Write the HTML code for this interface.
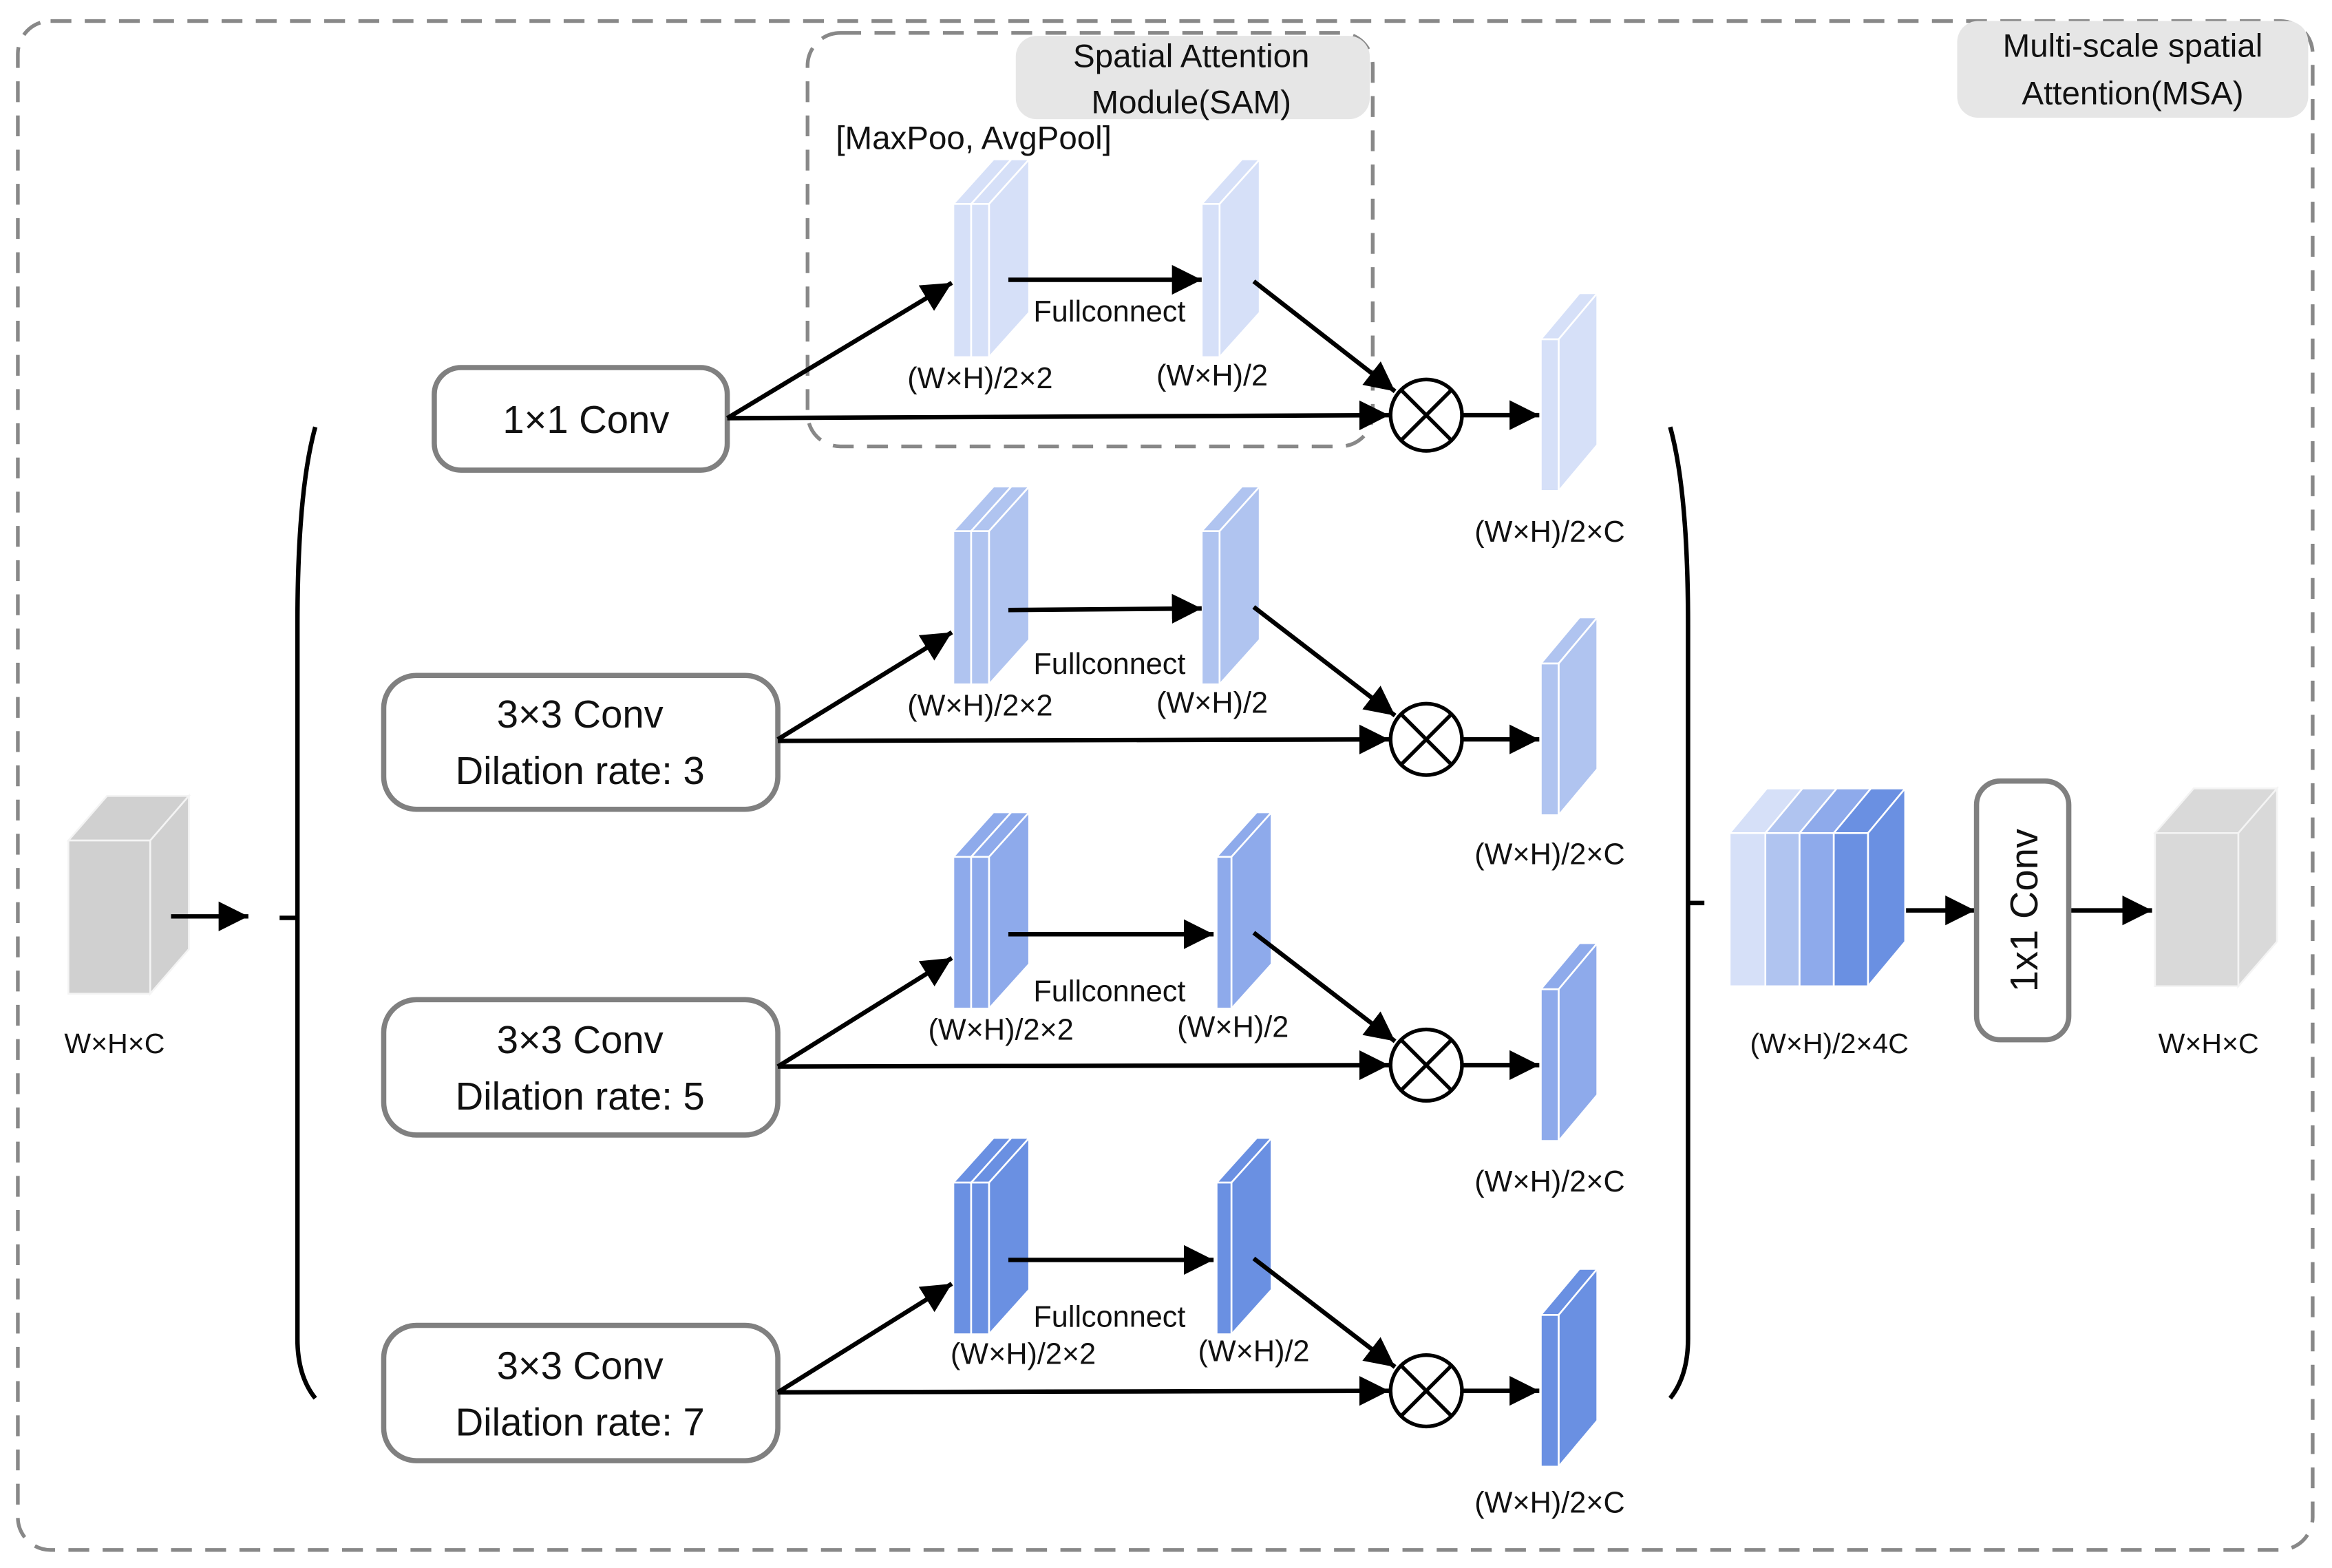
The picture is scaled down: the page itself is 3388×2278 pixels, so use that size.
<!DOCTYPE html>
<html><head><meta charset="utf-8"><style>
html,body{margin:0;padding:0;background:#fff}
svg{display:block}
text{font-family:"Liberation Sans",sans-serif;fill:#111}
</style></head><body>
<svg width="3388" height="2278" viewBox="0 0 1568 1054" xmlns="http://www.w3.org/2000/svg">
<defs>
<marker id="ah" markerWidth="10" markerHeight="10" refX="9" refY="5" orient="auto" markerUnits="userSpaceOnUse" viewBox="0 0 10 10">
</marker>
<marker id="a" viewBox="0 0 10 10" refX="10" refY="5" markerWidth="20" markerHeight="20" markerUnits="userSpaceOnUse" orient="auto"><path d="M0,0 L10,5 L0,10 z" fill="#000"/></marker>
</defs>
<!-- outer dashed -->
<rect x="12" y="14" width="1543" height="1028" rx="22" fill="none" stroke="#888" stroke-width="2.5" stroke-dasharray="14,9"/>
<rect x="1316" y="14" width="236" height="65" rx="14" fill="#e6e6e6"/>
<text x="1434" y="38" font-size="22" text-anchor="middle">Multi-scale spatial</text>
<text x="1434" y="70" font-size="22" text-anchor="middle">Attention(MSA)</text>
<!-- SAM dashed -->
<rect x="543" y="22" width="380" height="278" rx="22" fill="none" stroke="#888" stroke-width="2.5" stroke-dasharray="14,9"/>
<rect x="683" y="24" width="238" height="56" rx="14" fill="#e6e6e6"/>
<text x="801" y="45" font-size="22" text-anchor="middle">Spatial Attention</text>
<text x="801" y="76" font-size="22" text-anchor="middle">Module(SAM)</text>
<text x="562" y="100" font-size="22">[MaxPoo, AvgPool]</text>

<!-- input cube -->
<g fill="#d0d0d0" stroke="#f4f4f4" stroke-width="1.2">
<polygon points="46,565 72,535 127,535 101,565"/>
<polygon points="101,565 127,535 127,638 101,668"/>
<rect x="46" y="565" width="55" height="103"/>
</g>
<text x="77" y="708" font-size="19" text-anchor="middle">W×H×C</text>
<line x1="115" y1="616" x2="167" y2="616" stroke="#000" stroke-width="3" marker-end="url(#a)"/>
<line x1="188" y1="617" x2="200" y2="617" stroke="#000" stroke-width="3"/>
<!-- brackets -->
<path d="M212,287 Q200,330 200,420 L200,900 Q200,925 212,940" fill="none" stroke="#000" stroke-width="3"/>
<path d="M1123,287 Q1135,330 1135,420 L1135,900 Q1135,925 1123,940" fill="none" stroke="#000" stroke-width="3"/>
<line x1="1135" y1="607" x2="1146" y2="607" stroke="#000" stroke-width="3"/>

<!-- conv boxes -->
<g fill="#fff" stroke="#808080" stroke-width="3.5">
<rect x="292" y="247" width="197" height="69" rx="18"/>
<rect x="258" y="454" width="265" height="90" rx="22"/>
<rect x="258" y="672" width="265" height="91" rx="22"/>
<rect x="258" y="891" width="265" height="91" rx="22"/>
</g>
<text x="394" y="291" font-size="26" text-anchor="middle">1×1 Conv</text>
<text x="390" y="489" font-size="26" text-anchor="middle">3×3 Conv</text>
<text x="390" y="527" font-size="26" text-anchor="middle">Dilation rate: 3</text>
<text x="390" y="708" font-size="26" text-anchor="middle">3×3 Conv</text>
<text x="390" y="746" font-size="26" text-anchor="middle">Dilation rate: 5</text>
<text x="390" y="927" font-size="26" text-anchor="middle">3×3 Conv</text>
<text x="390" y="965" font-size="26" text-anchor="middle">Dilation rate: 7</text>

<!-- ROW 1 -->
<g stroke="#fff" stroke-width="1.2" fill="#d6e0f8">
<polygon points="641,137 668,107 680,107 653,137"/><polygon points="653,137 680,107 680,210 653,240"/><rect x="641" y="137" width="12" height="103"/>
<polygon points="653,137 680,107 692,107 665,137"/><polygon points="665,137 692,107 692,210 665,240"/><rect x="653" y="137" width="12" height="103"/>
<polygon points="808,137 835,107 847,107 820,137"/><polygon points="820,137 847,107 847,210 820,240"/><rect x="808" y="137" width="12" height="103"/>
<polygon points="1036,228 1062,197 1074,197 1048,228"/><polygon points="1048,228 1074,197 1074,299 1048,330"/><rect x="1036" y="228" width="12" height="102"/>
</g>
<!-- ROW 2 -->
<g stroke="#fff" stroke-width="1.2" fill="#b0c4f0">
<polygon points="641,357 668,327 680,327 653,357"/><polygon points="653,357 680,327 680,430 653,460"/><rect x="641" y="357" width="12" height="103"/>
<polygon points="653,357 680,327 692,327 665,357"/><polygon points="665,357 692,327 692,430 665,460"/><rect x="653" y="357" width="12" height="103"/>
<polygon points="808,357 835,327 847,327 820,357"/><polygon points="820,357 847,327 847,430 820,460"/><rect x="808" y="357" width="12" height="103"/>
<polygon points="1036,446 1062,415 1074,415 1048,446"/><polygon points="1048,446 1074,415 1074,517 1048,548"/><rect x="1036" y="446" width="12" height="102"/>
</g>
<!-- ROW 3 -->
<g stroke="#fff" stroke-width="1.2" fill="#8eaaeb">
<polygon points="641,576 668,546 680,546 653,576"/><polygon points="653,576 680,546 680,648 653,678"/><rect x="641" y="576" width="12" height="102"/>
<polygon points="653,576 680,546 692,546 665,576"/><polygon points="665,576 692,546 692,648 665,678"/><rect x="653" y="576" width="12" height="102"/>
<polygon points="818,576 845,546 855,546 828,576"/><polygon points="828,576 855,546 855,648 828,678"/><rect x="818" y="576" width="10" height="102"/>
<polygon points="1036,665 1062,634 1074,634 1048,665"/><polygon points="1048,665 1074,634 1074,736 1048,767"/><rect x="1036" y="665" width="12" height="102"/>
</g>
<!-- ROW 4 -->
<g stroke="#fff" stroke-width="1.2" fill="#6a90e2">
<polygon points="641,795 668,765 680,765 653,795"/><polygon points="653,795 680,765 680,867 653,897"/><rect x="641" y="795" width="12" height="102"/>
<polygon points="653,795 680,765 692,765 665,795"/><polygon points="665,795 692,765 692,867 665,897"/><rect x="653" y="795" width="12" height="102"/>
<polygon points="818,795 845,765 855,765 828,795"/><polygon points="828,795 855,765 855,867 828,897"/><rect x="818" y="795" width="10" height="102"/>
<polygon points="1036,884 1062,853 1074,853 1048,884"/><polygon points="1048,884 1074,853 1074,955 1048,986"/><rect x="1036" y="884" width="12" height="102"/>
</g>

<!-- arrows -->
<g stroke="#000" stroke-width="3" fill="none" marker-end="url(#a)">
<line x1="489" y1="281" x2="640" y2="190"/>
<line x1="489" y1="281" x2="934" y2="279"/>
<line x1="678" y1="188" x2="808" y2="188"/>
<line x1="843" y1="189" x2="938" y2="263"/>
<line x1="984" y1="279" x2="1035" y2="279"/>

<line x1="523" y1="497" x2="640" y2="425"/>
<line x1="523" y1="498" x2="934" y2="497"/>
<line x1="678" y1="410" x2="808" y2="409"/>
<line x1="843" y1="408" x2="938" y2="481"/>
<line x1="984" y1="497" x2="1035" y2="497"/>

<line x1="523" y1="717" x2="640" y2="644"/>
<line x1="523" y1="717" x2="934" y2="716"/>
<line x1="678" y1="628" x2="816" y2="628"/>
<line x1="843" y1="627" x2="938" y2="700"/>
<line x1="984" y1="716" x2="1035" y2="716"/>

<line x1="523" y1="936" x2="640" y2="863"/>
<line x1="523" y1="936" x2="934" y2="935"/>
<line x1="678" y1="847" x2="816" y2="847"/>
<line x1="843" y1="846" x2="938" y2="919"/>
<line x1="984" y1="935" x2="1035" y2="935"/>

<line x1="1268" y1="612" x2="1328" y2="612"/>
<line x1="1391" y1="612" x2="1447" y2="612"/>
</g>

<!-- multiply circles -->
<g fill="#fff" stroke="#000" stroke-width="2.5">
<circle cx="959" cy="279" r="24"/><path d="M942,262 L976,296 M976,262 L942,296"/>
<circle cx="959" cy="497" r="24"/><path d="M942,480 L976,514 M976,480 L942,514"/>
<circle cx="959" cy="716" r="24"/><path d="M942,699 L976,733 M976,699 L942,733"/>
<circle cx="959" cy="935" r="24"/><path d="M942,918 L976,952 M976,918 L942,952"/>
</g>

<!-- labels -->
<g font-size="20">
<text x="746" y="216" text-anchor="middle">Fullconnect</text>
<text x="659" y="261" text-anchor="middle">(W×H)/2×2</text>
<text x="815" y="259" text-anchor="middle">(W×H)/2</text>
<text x="1042" y="364" text-anchor="middle">(W×H)/2×C</text>

<text x="746" y="453" text-anchor="middle">Fullconnect</text>
<text x="659" y="481" text-anchor="middle">(W×H)/2×2</text>
<text x="815" y="479" text-anchor="middle">(W×H)/2</text>
<text x="1042" y="581" text-anchor="middle">(W×H)/2×C</text>

<text x="746" y="673" text-anchor="middle">Fullconnect</text>
<text x="673" y="699" text-anchor="middle">(W×H)/2×2</text>
<text x="829" y="697" text-anchor="middle">(W×H)/2</text>
<text x="1042" y="801" text-anchor="middle">(W×H)/2×C</text>

<text x="746" y="892" text-anchor="middle">Fullconnect</text>
<text x="688" y="917" text-anchor="middle">(W×H)/2×2</text>
<text x="843" y="915" text-anchor="middle">(W×H)/2</text>
<text x="1042" y="1017" text-anchor="middle">(W×H)/2×C</text>
</g>

<!-- concat block -->
<g stroke="#fff" stroke-width="1.2">
<g fill="#d6e0f8"><polygon points="1163,560 1188,530 1212,530 1187,560"/><rect x="1163" y="560" width="24" height="103"/></g>
<g fill="#b0c4f0"><polygon points="1187,560 1212,530 1235,530 1210,560"/><rect x="1187" y="560" width="23" height="103"/></g>
<g fill="#8eaaeb"><polygon points="1210,560 1235,530 1258,530 1233,560"/><rect x="1210" y="560" width="23" height="103"/></g>
<g fill="#6a90e2"><polygon points="1233,560 1258,530 1281,530 1256,560"/><polygon points="1256,560 1281,530 1281,633 1256,663"/><rect x="1233" y="560" width="23" height="103"/></g>
</g>
<text x="1230" y="708" font-size="19" text-anchor="middle">(W×H)/2×4C</text>
<rect x="1329" y="525" width="62" height="174" rx="16" fill="#fff" stroke="#808080" stroke-width="3.5"/>
<text transform="translate(1370,612) rotate(-90)" font-size="26" text-anchor="middle">1x1 Conv</text>
<g fill="#d9d9d9" stroke="#f4f4f4" stroke-width="1.2">
<polygon points="1449,560 1475,530 1531,530 1505,560"/>
<polygon points="1505,560 1531,530 1531,633 1505,663"/>
<rect x="1449" y="560" width="56" height="103"/>
</g>
<text x="1485" y="708" font-size="19" text-anchor="middle">W×H×C</text>
</svg>
</body></html>
